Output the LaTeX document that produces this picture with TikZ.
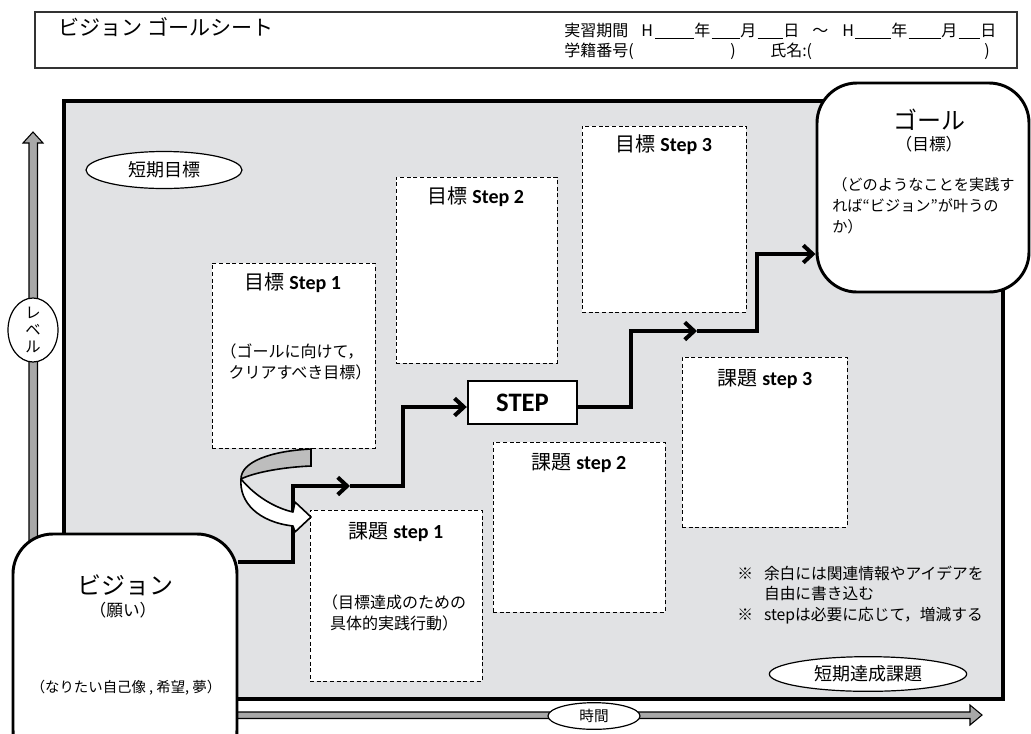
\documentclass[tikz,border=0pt]{standalone}
\usepackage{fontspec}
\setmainfont{Noto Sans CJK JP}
\newfontfamily\latb{Carlito}
\usetikzlibrary{shapes.geometric,arrows.meta,fit}
\definecolor{bg}{HTML}{E1E2E4}
\definecolor{axisgray}{HTML}{A8A8A8}
\definecolor{ribbon}{HTML}{BDBDBD}
\newcommand{\ulin}[1]{\rule[-1.5pt]{#1}{0.6pt}}
\tikzset{
  hdrbox/.style={draw=black!80, line width=0.8pt, inner sep=0pt},
  mainbox/.style={draw=black, line width=3.4pt, fill=bg, inner sep=0pt},
  dbox/.style={draw=black, dash pattern=on 3pt off 2pt, line width=0.7pt, fill=white, inner sep=0pt},
  stepbox/.style={draw=black, line width=1.8pt, fill=white, inner sep=0pt},
  rbox/.style={draw=black, line width=2.2pt, fill=white, rounded corners=30pt, inner sep=0pt},
  oval/.style={ellipse, draw=black, line width=0.9pt, fill=white, inner sep=0pt},
  flow/.style={line width=3pt, -{Straight Barb[length=7pt,width=13pt]}},
  axis/.style={draw=black, line width=0.8pt, fill=axisgray},
  ttl/.style={font=\fontsize{15}{17}\selectfont, inner sep=0pt},
  body/.style={font=\fontsize{12}{15.75}\selectfont, inner sep=0pt, align=center},
  txt/.style={inner sep=0pt},
}
\begin{document}
\begin{tikzpicture}[x=0.75pt,y=-0.75pt]
\useasboundingbox (0,0) rectangle (1031,733);
% header
\node[hdrbox, fit={(35,12) (1017,68)}] (hdr) {};
\node[txt, anchor=west, font=\fontsize{15.8}{18}\selectfont] (title) at (58,27) {ビジョン ゴールシート};
\node[txt, anchor=west, font=\fontsize{12}{14}\selectfont] (hl1) at (564,31)
 {\makebox[57.75pt][l]{実習期間}\makebox[10.5pt][l]{H}\ulin{29.25pt}\makebox[13pt][l]{年}\ulin{21.5pt}\makebox[13pt][l]{月}\ulin{19.25pt}\makebox[21.75pt][l]{日}\makebox[22.5pt][l]{～}\makebox[9.75pt][l]{H}\ulin{27pt}\makebox[13pt][l]{年}\ulin{24.5pt}\makebox[13pt][l]{月}\ulin{16.25pt}日};
\node[txt, anchor=west, font=\fontsize{12}{14}\selectfont] (hl2) at (564,51)
 {\makebox[124.5pt][l]{学籍番号(}\makebox[30pt][l]{)}\makebox[160.5pt][l]{氏名:(})};
% main area
\node[mainbox, fit={(64,101) (1003,699)}] (main) {};
% axes
\filldraw[axis] (29,560) -- (29,143) -- (23,143) -- (33,132) -- (43,143) -- (37.5,143) -- (37.5,560) -- cycle;
\filldraw[axis] (200,712) -- (970,712) -- (970,705) -- (982,715) -- (970,725) -- (970,718.5) -- (200,718.5) -- cycle;
\node[oval, minimum width=37.5pt, minimum height=48pt] (lvl) at (33,330) {};
\node[txt, align=center, font=\fontsize{11.5}{12.75}\selectfont] (lvlt) at (33,330) {レ\\ベ\\ル};
\node[oval, minimum width=69pt, minimum height=20pt, font=\fontsize{11}{12}\selectfont] (time) at (594,716) {時間};
% ovals
\node[oval, minimum width=117pt, minimum height=27.75pt, font=\fontsize{13.5}{15}\selectfont] (tanki) at (164,170) {短期目標};
\node[oval, minimum width=148pt, minimum height=26pt, font=\fontsize{13.5}{15}\selectfont] (tankik) at (868,674) {短期達成課題};
% dashed boxes
\node[dbox, fit={(212,263) (375,448)}] (g1) {};
\node[dbox, fit={(396,177) (557,363)}] (g2) {};
\node[dbox, fit={(582,126) (746,312)}] (g3) {};
\node[dbox, fit={(310,510) (482,681)}] (k1) {};
\node[dbox, fit={(493,442) (665,612)}] (k2) {};
\node[dbox, fit={(682,357) (847,527)}] (k3) {};
\node[ttl] (g1t) at (293,283) {目標 {\latb\bfseries Step 1}};
\node[ttl] (g2t) at (476,197) {目標 {\latb\bfseries Step 2}};
\node[ttl] (g3t) at (664,145) {目標 {\latb\bfseries Step 3}};
\node[ttl] (k1t) at (396,532) {課題 {\latb\bfseries step 1}};
\node[ttl] (k2t) at (579,463) {課題 {\latb\bfseries step 2}};
\node[ttl] (k3t) at (765,379) {課題 {\latb\bfseries step 3}};
\node[body] (g1b) at (292,362) {（ゴールに向けて，\\\hspace*{1em}クリアすべき目標）};
\node[body] (k1b) at (394,613) {（目標達成のための\\具体的実践行動）};
% STEP box
\node[stepbox, fit={(468,381) (577,424)}] (stp) {};
\node[txt, font=\fontsize{20}{22}\latb\bfseries] (stpt) at (522.5,402.5) {STEP};
% goal and vision boxes
\node[rbox, fit={(817,83) (1029,292)}] (goal) {};
\node[txt, font=\fontsize{18}{20}\selectfont] (goalt) at (929,120) {ゴール};
\node[txt, font=\fontsize{12.5}{14}\selectfont] (goals) at (929,144) {（目標）};
\node[txt, anchor=west, align=left, font=\fontsize{11.4}{15.75}\selectfont] (goalb) at (832,206) {（どのようなことを実践す\\れば“ビジョン”が叶うの\\か）};
\node[rbox, fit={(13,534) (237,770)}] (vis) {};
\node[txt, font=\fontsize{18}{20}\selectfont] (vist) at (125,585) {ビジョン};
\node[txt, font=\fontsize{12.5}{14}\selectfont] (viss) at (123,610) {（願い）};
\node[txt, font=\fontsize{10.8}{12}\selectfont] (visb) at (126,688) {（なりたい自己像 , 希望, 夢）};
% notes
\node[txt, anchor=west, align=left, font=\fontsize{11.8}{15.5}\selectfont] (notes) at (737,595) {※\hspace{0.7em}余白には関連情報やアイデアを\\\hspace*{1.7em}自由に書き込む\\※\hspace{0.7em}stepは必要に応じて，増減する};
% flow path
\coordinate (a1) at (293,562);
\coordinate (a2) at (293,486);
\coordinate (a3) at (350,486);
\coordinate (a4) at (403,486);
\coordinate (a5) at (403,407);
\coordinate (b1) at (631,407);
\coordinate (b2) at (631,331);
\coordinate (b3) at (697,331);
\coordinate (b4) at (757,331);
\coordinate (b5) at (757,254);
\draw[flow] (vis.east |- a1) -- (a1) -- (a2) -- (a3);
\draw[flow] (a3) -- (a4) -- (a5) -- (stp.west |- a5);
\draw[flow] (stp.east |- b1) -- (b1) -- (b2) -- (b3);
\draw[flow] (b3) -- (b4) -- (b5) -- (goal.west |- b5);
% curled arrow
\filldraw[fill=ribbon, draw=black, line width=1.2pt] (311,449) .. controls (270,451) and (241,462) .. (241,479) .. controls (255,472) and (285,467) .. (311,466) -- cycle;
\filldraw[fill=white, draw=black, line width=1.2pt, line join=round] (241,479) .. controls (255,496) and (275,508) .. (293,512) -- (295,502) -- (311,517) -- (295,532) -- (293,526) .. controls (258,522) and (239,502) .. (241,479) -- cycle;
\end{tikzpicture}
\end{document}
